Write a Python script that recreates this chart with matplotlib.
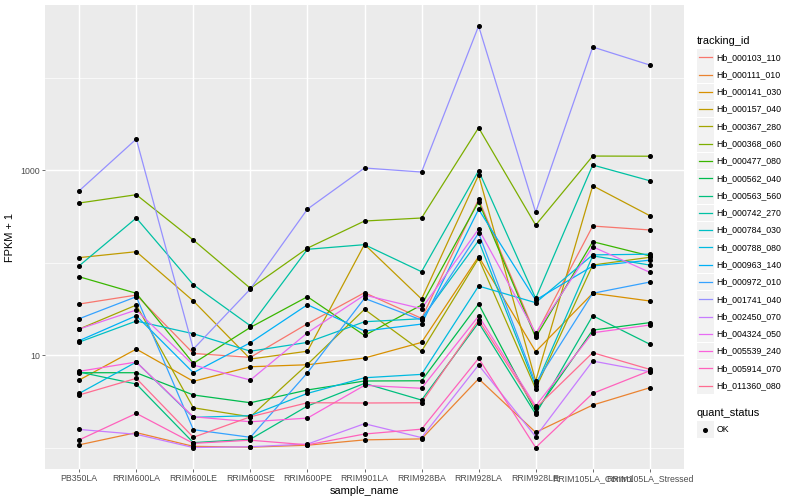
import numpy as np
import matplotlib
matplotlib.use("Agg")
import matplotlib.pyplot as plt
from matplotlib.patches import Rectangle
from matplotlib.ticker import FixedLocator, NullFormatter

plt.rcParams['font.family'] = ['Liberation Sans', 'DejaVu Sans']

samples = ["PB350LA", "RRIM600LA", "RRIM600LE", "RRIM600SE", "RRIM600PE",
           "RRIM901LA", "RRIM928BA", "RRIM928LA", "RRIM928LE",
           "RRIM105LA_Control", "RRIM105LA_Stressed"]

tracking_ids = ["Hb_000103_110", "Hb_000111_010", "Hb_000141_030", "Hb_000157_040",
                "Hb_000367_280", "Hb_000368_060", "Hb_000477_080", "Hb_000562_040",
                "Hb_000563_560", "Hb_000742_270", "Hb_000784_030", "Hb_000788_080",
                "Hb_000963_140", "Hb_000972_010", "Hb_001741_040", "Hb_002450_070",
                "Hb_004324_050", "Hb_005539_240", "Hb_005914_070", "Hb_011360_080"]

# ggplot hue palette for 20 levels
colors = ["#F8766D", "#EA8331", "#D89000", "#C09B00", "#A3A500", "#7CAE00", "#39B600",
          "#00BB4E", "#00BF7D", "#00C1A3", "#00BFC4", "#00BAE0", "#00B0F6", "#35A2FF",
          "#9590FF", "#C77CFF", "#E76BF3", "#FA62DB", "#FF62BC", "#FF6C91"]

# FPKM + 1, one value per sample
hb_000103_110 = [35.6, 44.5, 10.4, 9.44, 21.8, 47.2, 24.9, 482, 16.5, 248, 225]
hb_000111_010 = [1.07, 1.45, 1.03, 1.01, 1.06, 1.21, 1.24, 5.54, 1.46, 2.88, 4.43]
hb_000141_030 = [5.37, 11.6, 5.20, 7.47, 7.85, 9.28, 13.7, 116, 10.9, 46.5, 38.4]
hb_000157_040 = [113, 131, 38.4, 9.05, 11.0, 157, 40.3, 883, 5.24, 676, 321]
hb_000367_280 = [19.1, 34.7, 2.69, 2.15, 7.93, 31.2, 11.0, 111, 4.32, 94.0, 114]
hb_000368_060 = [440, 541, 175, 52.6, 143, 281, 303, 2864, 254, 1416, 1410]
hb_000477_080 = [70.2, 46.5, 8.13, 19.9, 42.7, 16.3, 34.7, 454, 15.5, 168, 118]
hb_000562_040 = [6.44, 6.44, 3.70, 3.05, 4.19, 5.24, 5.27, 35.6, 2.44, 18.6, 22.4]
hb_000563_560 = [6.55, 4.86, 1.13, 1.23, 2.81, 4.94, 3.26, 22.4, 2.30, 26.6, 13.1]
hb_000742_270 = [92.3, 303, 57.5, 20.7, 139, 156, 79.6, 982, 41.0, 1133, 766]
hb_000784_030 = [13.8, 23.3, 17.0, 11.0, 13.7, 22.9, 24.7, 172, 4.62, 118, 94.0]
hb_000788_080 = [3.85, 8.40, 2.12, 2.21, 3.85, 5.68, 6.18, 55.7, 36.8, 121, 123]
hb_000963_140 = [14.3, 26.6, 6.44, 13.6, 35.0, 18.2, 21.6, 376, 39.3, 91.7, 106]
hb_000972_010 = [24.7, 42.7, 1.56, 1.29, 6.44, 41.0, 23.9, 208, 4.94, 46.5, 61.5]
hb_001741_040 = [597, 2163, 11.6, 51.8, 378, 1052, 951, 36060, 349, 21380, 13650]
hb_002450_070 = [1.57, 1.39, 1.00, 1.02, 1.09, 1.81, 1.28, 7.80, 1.31, 8.61, 6.60]
hb_004324_050 = [19.1, 30.7, 7.80, 5.37, 17.4, 44.5, 31.7, 230, 17.2, 148, 78.4]
hb_005539_240 = [6.67, 8.40, 2.15, 1.90, 2.08, 4.70, 4.37, 26.4, 2.81, 17.4, 21.1]
hb_005914_070 = [1.21, 2.34, 1.11, 1.20, 1.07, 1.40, 1.58, 9.21, 1.00, 3.85, 6.76]
hb_011360_080 = [3.70, 5.60, 1.29, 2.15, 3.05, 3.03, 3.05, 23.9, 2.67, 10.6, 7.00]

series = [hb_000103_110, hb_000111_010, hb_000141_030, hb_000157_040, hb_000367_280,
          hb_000368_060, hb_000477_080, hb_000562_040, hb_000563_560, hb_000742_270,
          hb_000784_030, hb_000788_080, hb_000963_140, hb_000972_010, hb_001741_040,
          hb_002450_070, hb_004324_050, hb_005539_240, hb_005914_070, hb_011360_080]

fig = plt.figure(figsize=(8, 5), dpi=100)
ax = fig.add_axes([45 / 800, 31 / 500, 639 / 800, 464 / 500])
ax.set_facecolor('#EBEBEB')
for s in ax.spines.values():
    s.set_visible(False)

x = np.arange(len(samples))
for vals, col in zip(series, colors):
    ax.plot(x, vals, color=col, lw=0.9, zorder=3)
for vals in series:
    ax.plot(x, vals, ls='none', marker='o', ms=2.6, color='black', zorder=4)

ax.set_yscale('log')
ax.set_ylim(10 ** -0.232, 10 ** 4.784)
ax.set_xlim(-0.6, len(samples) - 0.4)
ax.yaxis.set_major_locator(FixedLocator([10, 1000]))
ax.yaxis.set_minor_locator(FixedLocator([1, 100, 10000]))
ax.yaxis.set_minor_formatter(NullFormatter())
ax.set_yticklabels(["10", "1000"])
ax.set_xticks(x)
ax.set_xticklabels(samples)

ax.grid(which='major', color='white', lw=1.02, zorder=1)
ax.grid(which='minor', axis='y', color='white', lw=0.5, zorder=1)
ax.set_axisbelow(True)
ax.tick_params(which='major', length=2.0, width=0.5, color='#333333',
               labelsize=6.3, labelcolor='#4D4D4D', pad=1.5)
ax.tick_params(which='minor', length=0)

ax.set_xlabel("sample_name", fontsize=7.9, labelpad=2)
ax.set_ylabel("FPKM + 1", fontsize=7.9, labelpad=4)

# legends drawn in pixel space
lax = fig.add_axes([0, 0, 1, 1])
lax.set_xlim(0, 800)
lax.set_ylim(500, 0)
lax.axis('off')

lax.text(696.5, 40.5, "tracking_id", fontsize=7.9, va='center', ha='left')
y0, step = 57.3, 17.28
for i, (tid, col) in enumerate(zip(tracking_ids, colors)):
    yc = y0 + i * step
    lax.add_patch(Rectangle((697, yc - 8.3), 16.6, 16.6, facecolor='#F2F2F2', edgecolor='none'))
    lax.plot([698.5, 711.5], [yc, yc], color=col, lw=0.9)
    lax.text(716.5, yc, tid, fontsize=6.3, va='center', ha='left')

lax.text(696.5, 412.7, "quant_status", fontsize=7.9, va='center', ha='left')
lax.add_patch(Rectangle((697, 421.2), 16.6, 16.6, facecolor='#F2F2F2', edgecolor='none'))
lax.plot([705.3], [429.5], marker='o', ms=2.6, color='black')
lax.text(716.5, 429.5, "OK", fontsize=6.3, va='center', ha='left')

fig.savefig("out.png", dpi=100)
